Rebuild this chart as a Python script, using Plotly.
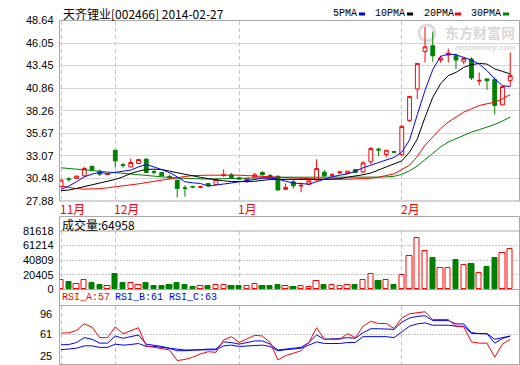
import plotly.graph_objects as go

W, H = 520, 365

# ---------------- data ----------------
idx = list(range(59))
month_labels = ["11月", "12月", "1月", "2月"]
month_start = [0, 7, 23, 44]

opens = [29.52, 30.42, 30.48, 30.77, 31.88, 31.31, 30.93, 33.72, 32.05, 31.80,
         32.19, 32.70, 31.25, 31.16, 30.70, 30.28, 29.40, 29.55, 29.45, 29.90,
         29.79, 30.82, 30.89, 30.55, 30.25, 30.63, 31.16, 30.82, 30.74, 29.22,
         30.09, 29.60, 29.79, 30.28, 31.20, 30.80, 31.10, 31.05, 31.50, 31.23,
         32.38, 33.85, 33.22, 33.55, 33.22, 37.15, 40.77, 45.08, 45.73, 44.09,
         44.66, 44.58, 43.90, 44.21, 41.68, 41.92, 41.84, 38.94, 41.72]
highs = [30.35, 30.60, 30.80, 31.80, 31.90, 31.50, 31.00, 33.75, 32.25, 32.77,
         32.70, 32.77, 31.45, 31.20, 30.90, 30.30, 29.70, 29.62, 29.65, 29.95,
         30.40, 31.54, 31.10, 30.60, 30.50, 31.12, 31.30, 31.00, 30.74, 29.90,
         30.30, 30.00, 30.25, 32.68, 31.45, 31.10, 31.30, 31.35, 31.55, 32.50,
         34.09, 34.00, 33.75, 33.65, 36.66, 39.95, 43.75, 47.90, 47.37, 44.60,
         45.42, 44.85, 44.45, 44.40, 42.67, 41.95, 42.10, 41.04, 44.96]
lows = [29.45, 30.10, 30.45, 30.70, 31.30, 30.75, 30.90, 31.74, 31.70, 31.75,
        32.15, 31.16, 30.95, 30.77, 30.35, 28.30, 28.37, 29.35, 29.35, 29.55,
        29.70, 30.65, 30.50, 30.35, 29.97, 30.60, 30.85, 30.55, 29.14, 29.20,
        29.30, 28.88, 29.70, 30.25, 30.60, 30.75, 31.00, 31.00, 31.10, 31.05,
        32.11, 33.06, 32.95, 33.40, 33.10, 36.95, 39.63, 43.82, 43.90, 43.80,
        43.82, 43.06, 43.60, 41.80, 41.15, 40.66, 37.83, 38.90, 41.04]
closes = [30.28, 30.38, 30.74, 31.62, 31.50, 30.97, 30.97, 32.50, 31.98, 32.31,
          32.65, 31.16, 31.20, 30.77, 30.66, 29.33, 29.33, 29.50, 29.52, 29.63,
          30.36, 30.88, 30.59, 30.40, 30.48, 30.89, 30.89, 30.66, 29.14, 29.45,
          29.63, 29.68, 30.20, 31.62, 30.77, 30.88, 31.23, 31.31, 31.16, 32.26,
          33.91, 33.75, 33.72, 33.50, 36.46, 39.89, 43.70, 45.61, 44.58, 44.32,
          44.89, 44.09, 44.28, 42.03, 41.75, 41.72, 38.86, 41.04, 42.30]

ma5 = [29.22, 29.60, 30.09, 30.66, 30.97, 31.16, 31.05, 31.16, 31.31, 31.43,
       31.80, 32.08, 31.80, 31.51, 31.16, 30.66, 30.09, 29.97, 29.90, 29.60,
       29.70, 29.82, 29.95, 30.09, 30.25, 30.40, 30.50, 30.51, 30.40, 30.15,
       29.95, 29.88, 29.82, 30.10, 30.40, 30.66, 30.85, 31.00, 31.30, 31.70,
       32.00, 32.30, 32.60, 32.90, 33.50, 34.90, 37.80, 40.60, 43.00, 44.50,
       44.78, 44.70, 44.39, 44.09, 43.63, 42.87, 41.92, 41.15, 41.04]
ma10 = [29.06, 29.14, 29.33, 29.52, 29.71, 29.90, 30.09, 30.36, 30.66, 31.05,
        31.31, 31.51, 31.54, 31.51, 31.31, 31.12, 30.93, 30.74, 30.60, 30.45,
        30.30, 30.20, 30.12, 30.10, 30.10, 30.15, 30.25, 30.35, 30.36, 30.36,
        30.33, 30.30, 30.30, 30.35, 30.38, 30.40, 30.45, 30.62, 30.74, 30.90,
        31.10, 31.43, 31.80, 32.10, 32.50, 33.50, 35.00, 37.50, 39.80, 41.35,
        42.30, 42.67, 43.25, 43.56, 43.70, 43.63, 43.06, 42.79, 42.49]
ma20 = [29.60, 29.45, 29.30, 29.25, 29.25, 29.30, 29.40, 29.50, 29.60, 29.70,
        29.85, 30.00, 30.15, 30.30, 30.45, 30.60, 30.70, 30.80, 30.85, 30.85,
        30.85, 30.86, 30.86, 30.85, 30.80, 30.75, 30.72, 30.70, 30.60, 30.55,
        30.50, 30.45, 30.42, 30.40, 30.38, 30.36, 30.36, 30.38, 30.42, 30.45,
        30.50, 30.62, 30.78, 31.00, 31.50, 32.00, 33.00, 34.29, 35.24, 36.20,
        36.95, 37.53, 38.10, 38.49, 38.86, 39.06, 39.24, 39.63, 40.12]
ma30 = [31.70, 31.62, 31.54, 31.45, 31.37, 31.28, 31.18, 31.08, 30.98, 30.90,
        30.82, 30.74, 30.68, 30.63, 30.58, 30.52, 30.47, 30.42, 30.38, 30.40,
        30.42, 30.45, 30.47, 30.50, 30.50, 30.52, 30.55, 30.60, 30.62, 30.62,
        30.62, 30.60, 30.60, 30.60, 30.62, 30.62, 30.62, 30.55, 30.58, 30.60,
        30.60, 30.63, 30.66, 30.72, 30.95, 31.35, 31.90, 32.60, 33.30, 34.09,
        34.66, 35.05, 35.43, 35.81, 36.08, 36.38, 36.69, 37.07, 37.53]

volume = [13100, 10700, 7500, 13100, 8900, 6100, 4200, 22000, 9300, 8500,
          6100, 8900, 5100, 5100, 6100, 8900, 6100, 3700, 4700, 4700,
          5600, 5600, 5100, 4700, 4200, 7900, 4700, 4700, 6100, 4200,
          3200, 4200, 3200, 11300, 6100, 5600, 4200, 5600, 6100, 12700,
          21200, 11700, 12700, 6100, 19800, 46600, 72000, 53700, 44200, 29700,
          29700, 41400, 33900, 35700, 22600, 31500, 44200, 50800, 56500]

rsi_a = [62.5, 62.8, 65.8, 73.7, 69.7, 57.0, 57.0, 70.1, 61.8, 65.8,
         69.0, 47.0, 45.2, 44.0, 42.0, 29.2, 30.5, 33.3, 37.2, 39.9,
         39.2, 54.2, 58.2, 51.1, 55.0, 59.8, 59.0, 51.1, 30.0, 35.2,
         38.0, 41.1, 51.0, 69.0, 55.0, 55.0, 55.0, 61.8, 57.0, 70.9,
         76.9, 74.1, 74.1, 68.1, 80.8, 86.0, 87.5, 88.4, 78.9, 78.9,
         78.9, 70.9, 70.1, 51.8, 50.3, 50.3, 33.2, 49.1, 55.0]
rsi_b = [48.3, 48.6, 51.1, 57.0, 55.0, 50.3, 50.3, 59.0, 56.2, 57.8,
         60.2, 49.1, 47.9, 46.3, 44.0, 41.1, 41.1, 42.0, 42.3, 43.1,
         43.1, 51.8, 51.0, 49.1, 51.0, 53.0, 53.0, 49.1, 42.0, 43.1,
         44.0, 45.2, 51.1, 60.2, 55.0, 55.0, 55.9, 57.0, 56.2, 63.0,
         67.8, 67.8, 67.8, 67.0, 75.7, 80.8, 82.8, 83.6, 77.7, 77.7,
         77.7, 73.7, 73.7, 63.0, 61.8, 61.8, 50.3, 55.9, 59.0]
rsi_c = [42.3, 43.1, 44.2, 47.0, 47.0, 45.2, 45.2, 49.1, 47.9, 48.6,
         49.9, 46.3, 46.3, 45.2, 44.0, 43.1, 42.0, 42.0, 42.3, 42.3,
         42.3, 47.0, 47.9, 46.3, 47.0, 47.9, 47.9, 46.3, 41.1, 42.3,
         43.1, 44.2, 47.9, 51.8, 49.9, 49.9, 49.9, 51.1, 51.1, 58.2,
         58.2, 58.2, 58.2, 57.0, 63.8, 70.9, 73.7, 74.9, 72.1, 72.1,
         72.1, 70.9, 70.9, 62.2, 61.8, 61.8, 55.0, 57.0, 59.0]

price_ticks = [27.88, 30.48, 33.07, 35.67, 38.26, 40.86, 43.45, 46.05, 48.64]
vol_ticks = [0, 20405, 40809, 61214, 81618]
rsi_ticks = [25, 61, 96]
title_text = "天齐锂业[002466] 2014-02-27"
vol_title = "成交量:64958"
ma_names = ["5PMA", "10PMA", "20PMA", "30PMA"]
rsi_names = ["RSI_A:57", "RSI_B:61", "RSI_C:63"]
watermark_cn = "东方财富网"
watermark_en = "eastmoney.com"

# ---------------- style ----------------
RED, GREEN, BLUE, BLACK = "#ff0000", "#008000", "#0000ff", "#000000"
FRAME = "#a8a8a8"
GRID = "#d4d4d4"
VGRID = "#c4c4c4"
NUMFONT = dict(family="Liberation Sans, Arial", size=11, color="black")
MONO = "Liberation Mono, DejaVu Sans Mono"
CJK = "Noto Sans CJK SC"


def fx(p):
    return p / W


def fy(p):
    return (H - p) / H


X_DOM = [fx(59.5), fx(519.5)]
Y1_DOM = [fy(201), fy(20.5)]
Y2_DOM = [fy(289.3), fy(231)]
Y3_DOM = [fy(364), fy(305.5)]
XR = [-0.2, 59.2]

fig = go.Figure()

fig.add_trace(go.Candlestick(
    x=idx, open=opens, high=highs, low=lows, close=closes,
    increasing=dict(line=dict(color=RED, width=1), fillcolor="#ffffff"),
    decreasing=dict(line=dict(color=GREEN, width=1), fillcolor=GREEN),
    whiskerwidth=0, xaxis="x", yaxis="y", hoverinfo="skip"))

for vals, col in [(ma30, GREEN), (ma20, RED), (ma10, BLACK), (ma5, BLUE)]:
    fig.add_trace(go.Scatter(x=idx, y=vals, mode="lines",
                             line=dict(color=col, width=1),
                             xaxis="x", yaxis="y", hoverinfo="skip"))

up = [c >= o for o, c in zip(opens, closes)]
fig.add_trace(go.Bar(
    x=idx, y=volume, width=0.68,
    marker=dict(color=["#ffffff" if u else GREEN for u in up],
                line=dict(color=[RED if u else GREEN for u in up], width=1)),
    xaxis="x2", yaxis="y2", hoverinfo="skip"))

for vals, col in [(rsi_c, BLUE), (rsi_b, BLUE), (rsi_a, RED)]:
    fig.add_trace(go.Scatter(x=idx, y=vals, mode="lines",
                             line=dict(color=col, width=1),
                             xaxis="x3", yaxis="y3", hoverinfo="skip"))

xcommon = dict(domain=X_DOM, range=XR, tickvals=month_start, showgrid=True,
               gridcolor=VGRID, griddash="4px,3px", gridwidth=1,
               showticklabels=False, zeroline=False, showline=False,
               ticks="", fixedrange=True)

fig.update_layout(
    width=W, height=H, margin=dict(l=0, r=0, t=0, b=0),
    paper_bgcolor="white", plot_bgcolor="white", showlegend=False,
    bargap=0,
    xaxis=dict(**xcommon, anchor="y", rangeslider=dict(visible=False)),
    xaxis2=dict(**xcommon, anchor="y2"),
    xaxis3=dict(**xcommon, anchor="y3"),
    yaxis=dict(domain=Y1_DOM, range=[price_ticks[0], price_ticks[-1]],
               tickvals=price_ticks, ticktext=[f"{v:.2f}" for v in price_ticks],
               showgrid=True, gridcolor=GRID, zeroline=False, ticks="",
               ticklabelstandoff=5, tickfont=NUMFONT, anchor="x", automargin=False),
    yaxis2=dict(domain=Y2_DOM, range=[vol_ticks[0], vol_ticks[-1]],
                tickvals=vol_ticks, ticktext=[str(v) for v in vol_ticks],
                showgrid=True, gridcolor="#c8c8c8", griddash="2px,1px",
                zeroline=False, ticks="", ticklabelstandoff=5,
                tickfont=NUMFONT, anchor="x2", automargin=False),
    yaxis3=dict(domain=Y3_DOM, range=[rsi_ticks[0], rsi_ticks[-1]],
                tickvals=[rsi_ticks[1]], showticklabels=False,
                showgrid=True, gridcolor="#c8c8c8", griddash="2px,1px",
                zeroline=False, ticks="", anchor="x3", automargin=False),
)

shapes = []


def rect(x0, y0, x1, y1):
    shapes.append(dict(type="rect", xref="paper", yref="paper",
                       x0=fx(x0), x1=fx(x1), y0=fy(y1), y1=fy(y0),
                       line=dict(color=FRAME, width=1), fillcolor="rgba(0,0,0,0)",
                       layer="above"))


def hline(y, x0=59.5, x1=519.5):
    shapes.append(dict(type="line", xref="paper", yref="paper",
                       x0=fx(x0), x1=fx(x1), y0=fy(y), y1=fy(y),
                       line=dict(color=FRAME, width=1), layer="above"))


rect(59.5, 20.5, 519.5, 201)
rect(59.5, 216.5, 519.5, 289.5)
hline(231)
rect(59.5, 289.5, 519.5, 364.5)
hline(305.5)

# legend colour keys
legend_x = [331, 373, 422, 469]
key_x = [359, 407, 455, 503]
for kx, col in zip(key_x, [BLUE, BLACK, RED, GREEN]):
    shapes.append(dict(type="rect", xref="paper", yref="paper",
                       x0=fx(kx), x1=fx(kx + 6), y0=fy(15.5), y1=fy(12.5),
                       line=dict(width=0), fillcolor=col))

# watermark logo ring (decorative)
shapes.append(dict(type="circle", xref="paper", yref="paper",
                   x0=fx(419), x1=fx(435), y0=fy(41), y1=fy(25),
                   line=dict(color="#dcdcdc", width=3), fillcolor="rgba(0,0,0,0)",
                   layer="below"))

fig.update_layout(shapes=shapes)

ann = []
ann.append(dict(text=title_text, xref="paper", yref="paper", x=fx(61), y=fy(13.5),
                xanchor="left", yanchor="middle", showarrow=False,
                font=dict(family=CJK, size=12, color="black")))
for name, lx in zip(ma_names, legend_x):
    ann.append(dict(text=name, xref="paper", yref="paper", x=fx(lx), y=fy(14),
                    xanchor="left", yanchor="middle", showarrow=False,
                    font=dict(family=MONO, size=10, color="black")))
for lab, ms in zip(month_labels, month_start):
    ann.append(dict(text=lab, xref="x", yref="paper", x=ms, y=fy(208),
                    xanchor="left", yanchor="middle", xshift=-3, showarrow=False,
                    font=dict(family=CJK, size=12, color=RED)))
ann.append(dict(text=vol_title, xref="paper", yref="paper", x=fx(60), y=fy(224.5),
                xanchor="left", yanchor="middle", showarrow=False,
                font=dict(family=CJK, size=12, color="black")))
for name, lx, col in zip(rsi_names, [60, 113, 167], [RED, BLUE, BLUE]):
    ann.append(dict(text=name, xref="paper", yref="paper", x=fx(lx), y=fy(297.5),
                    xanchor="left", yanchor="middle", showarrow=False,
                    font=dict(family=MONO, size=10, color=col)))
for v, anc in zip(rsi_ticks, ["bottom", "middle", "top"]):
    ann.append(dict(text=str(v), xref="paper", yref="y3", x=fx(54), y=v,
                    xanchor="right", yanchor=anc, showarrow=False,
                    font=NUMFONT))
# watermark
ann.append(dict(text=f"<b>{watermark_cn}</b>", xref="paper", yref="paper",
                x=fx(517), y=fy(32), xanchor="right", yanchor="middle",
                showarrow=False, font=dict(family=CJK, size=14, color="#d8d8d8")))
ann.append(dict(text=f"<b><i>{watermark_en}</i></b>", xref="paper", yref="paper",
                x=fx(517), y=fy(47), xanchor="right", yanchor="middle",
                showarrow=False,
                font=dict(family="Liberation Sans, Arial", size=8, color="#d8d8d8")))
fig.update_layout(annotations=ann)

fig.write_html("out.html")
